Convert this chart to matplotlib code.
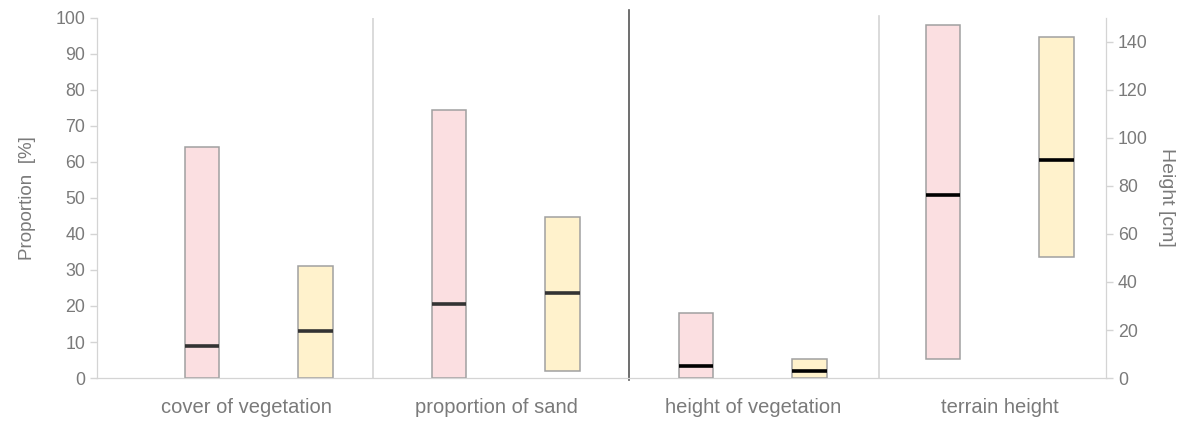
import numpy as np
import matplotlib.pyplot as plt

plt.rcParams['font.family'] = ['Liberation Sans', 'DejaVu Sans']

categories = ['cover of vegetation', 'proportion of sand', 'height of vegetation', 'terrain height']

# range (low, high) and median per category, first and second group
pink_low = [0, 0, 0, 7.9]
pink_high = [64, 74.3, 27.2, 147]
pink_med = [9, 20.6, 4.9, 76.3]
yellow_low = [0, 1.9, 0, 50.4]
yellow_high = [31.2, 44.8, 7.9, 142]
yellow_med = [13, 23.7, 2.8, 90.6]

# first two categories on the % axis, last two on the cm axis
on_right = [False, False, True, True]

text_col = '#7a7a7a'
spine_col = '#d4d4d4'

fig = plt.figure(figsize=(12.02, 4.21), dpi=100)
ax = fig.add_axes([0.0807, 0.102, 0.8394, 0.856])
ax2 = ax.twinx()

ax.set_xlim(-0.656, 3.43)
ax.set_ylim(0, 100)
ax2.set_ylim(0, 150)

width = 0.14
off = 0.23
x = np.arange(len(categories))

for i in range(len(categories)):
    a = ax2 if on_right[i] else ax
    med_col = '#000000' if on_right[i] else '#333333'
    for xc, lo, hi, md, fc in [(x[i] - off, pink_low[i], pink_high[i], pink_med[i], '#fbdfe1'),
                               (x[i] + off, yellow_low[i], yellow_high[i], yellow_med[i], '#fff2cc')]:
        a.bar(xc, hi - lo, bottom=lo, width=width, color=fc, edgecolor='#a0a0a0', linewidth=1.1, zorder=2)
        a.plot([xc - width / 2, xc + width / 2], [md, md], color=med_col, linewidth=2.6,
               solid_capstyle='butt', zorder=3)

# separators between categories
ax.axvline(0.46, color=spine_col, linewidth=1.2, zorder=1)
ax.axvline(1.5, ymin=-0.005, ymax=1.02, color='#555555', linewidth=1.2, zorder=1, clip_on=False)
ax.axvline(2.51, ymax=1.005, color=spine_col, linewidth=1.2, zorder=1, clip_on=False)

ax.set_xticks([-0.05, 0.96, 2.0, 3.0])
ax.set_xticklabels(categories, fontsize=14.5, color=text_col)
ax.tick_params(axis='x', length=0, pad=14)

ax.set_yticks(np.arange(0, 101, 10))
ax2.set_yticks(np.arange(0, 141, 20))
for a in (ax, ax2):
    a.tick_params(axis='y', labelsize=12.8, labelcolor=text_col, color=spine_col, length=5, width=1)
    for s in a.spines.values():
        s.set_color(spine_col)
    a.spines['top'].set_visible(False)

ax.set_ylabel('Proportion  [%]', fontsize=13.5, color=text_col, labelpad=14)
ax2.set_ylabel('Height [cm]', fontsize=14, color=text_col, rotation=270, labelpad=20)

fig.savefig('out.png', dpi=100)
